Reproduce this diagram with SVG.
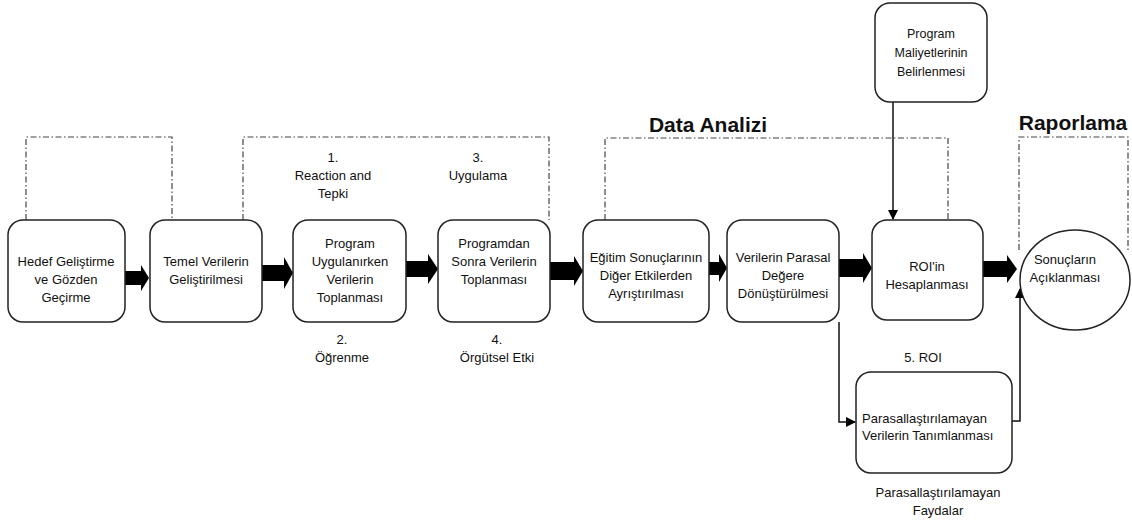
<svg xmlns="http://www.w3.org/2000/svg" width="1132" height="528" viewBox="0 0 1132 528">
<style>
.box{fill:#fff;stroke:#222;stroke-width:1.5}
.dd{fill:none;stroke:#444;stroke-width:1.2;stroke-dasharray:6 2.5 1.5 2.5}
.t{font-family:"Liberation Sans",Arial,sans-serif;font-size:13px;fill:#111;text-anchor:middle}
.ts{font-family:"Liberation Sans",Arial,sans-serif;font-size:13px;fill:#111;text-anchor:start}
.sm{font-size:12.5px}
.h{font-family:"Liberation Sans",Arial,sans-serif;font-size:21px;font-weight:bold;fill:#111;text-anchor:middle}
.ln{fill:none;stroke:#111;stroke-width:1.5}
.ba{fill:#000}
</style>
<defs>
<marker id="ah" markerWidth="10" markerHeight="10" refX="9" refY="5" orient="auto" markerUnits="userSpaceOnUse">
<path d="M0,0 L10,5 L0,10 z" fill="#000"/>
</marker>
</defs>
<rect width="1132" height="528" fill="#fff"/>

<g id="phases">
<path class="dd" d="M26,220 V137 H172 V220"/>
<path class="dd" d="M243,220 V137 H549 V220"/>
<path class="dd" d="M605,220 V138 H948 V220"/>
<path class="dd" d="M1019,250 V137 H1128 V250"/>
<text class="h" x="708" y="132">Data Analizi</text>
<text class="h" x="1073" y="130">Raporlama</text>
</g>

<g id="connectors">
<polygon class="ba" points="125,271 141,271 141,265 149,278 141,291 141,285 125,285"/>
<polygon class="ba" points="262,265 284,265 284,257 293,273 284,289 284,281 262,281"/>
<polygon class="ba" points="406,261 428,261 428,254 438,269 428,284 428,277 406,277"/>
<polygon class="ba" points="550,262 574,262 574,256 583,271 574,286 574,280 550,280"/>
<polygon class="ba" points="709,262 719,262 719,254 727,268 719,282 719,275 709,275"/>
<polygon class="ba" points="839,259 863,259 863,253 872,268 863,283 863,277 839,277"/>
<polygon class="ba" points="983,261 1007,261 1007,255 1017,269 1007,283 1007,277 983,277"/>
<path class="ln" d="M893,102 V219" marker-end="url(#ah)"/>
<path class="ln" d="M839,322 V422 H855" marker-end="url(#ah)"/>
<path class="ln" d="M1012,421 H1020 V289" marker-end="url(#ah)"/>
</g>

<g id="n1"><rect class="box" x="8" y="220" width="117" height="102" rx="15"/>
<text class="t" x="66" y="266">Hedef Geliştirme</text><text class="t" x="66" y="284">ve Gözden</text><text class="t" x="66" y="302">Geçirme</text></g>

<g id="n2"><rect class="box" x="150" y="220" width="112" height="102" rx="15"/>
<text class="t" x="206" y="266">Temel Verilerin</text><text class="t" x="206" y="284">Geliştirilmesi</text></g>

<g id="n3"><rect class="box" x="293" y="220" width="113" height="102" rx="15"/>
<text class="t" x="350" y="248">Program</text><text class="t" x="350" y="266">Uygulanırken</text><text class="t" x="350" y="284">Verilerin</text><text class="t" x="350" y="302">Toplanması</text></g>

<g id="n4"><rect class="box" x="438" y="220" width="112" height="102" rx="15"/>
<text class="t" x="494" y="248">Programdan</text><text class="t" x="494" y="266">Sonra Verilerin</text><text class="t" x="494" y="284">Toplanması</text></g>

<g id="n5"><rect class="box" x="583" y="220" width="126" height="102" rx="15"/>
<text class="t" x="646" y="262">Eğitim Sonuçlarının</text><text class="t" x="646" y="280">Diğer Etkilerden</text><text class="t" x="646" y="298">Ayrıştırılması</text></g>

<g id="n6"><rect class="box" x="727" y="220" width="112" height="102" rx="15"/>
<text class="t" x="783" y="262">Verilerin Parasal</text><text class="t" x="783" y="280">Değere</text><text class="t" x="783" y="298">Dönüştürülmesi</text></g>

<g id="n7"><rect class="box" x="875" y="3" width="112" height="99" rx="15"/>
<text class="t sm" x="931" y="38">Program</text><text class="t sm" x="931" y="57">Maliyetlerinin</text><text class="t sm" x="931" y="76">Belirlenmesi</text></g>

<g id="n8"><rect class="box" x="872" y="220" width="111" height="100" rx="15"/>
<text class="t" x="927" y="271">ROI'in</text><text class="t" x="927" y="289">Hesaplanması</text></g>

<g id="n9"><ellipse class="box" cx="1075" cy="280" rx="55" ry="50"/>
<text class="t" x="1065" y="264">Sonuçların</text><text class="t" x="1065" y="282">Açıklanması</text></g>

<g id="n10"><rect class="box" x="856" y="372" width="156" height="101" rx="15"/>
<text class="ts" x="862" y="423">Parasallaştırılamayan</text><text class="ts" x="862" y="440">Verilerin Tanımlanması</text></g>

<g id="labels">
<text class="t" x="333" y="162">1.</text><text class="t" x="333" y="180">Reaction and</text><text class="t" x="333" y="198">Tepki</text>
<text class="t" x="478" y="162">3.</text><text class="t" x="478" y="180">Uygulama</text>
<text class="t" x="342" y="344">2.</text><text class="t" x="342" y="362">Öğrenme</text>
<text class="t" x="497" y="344">4.</text><text class="t" x="497" y="362">Örgütsel Etki</text>
<text class="t" x="923" y="362">5. ROI</text>
<text class="t" x="938" y="497">Parasallaştırılamayan</text><text class="t" x="938" y="515">Faydalar</text>
</g>
</svg>
